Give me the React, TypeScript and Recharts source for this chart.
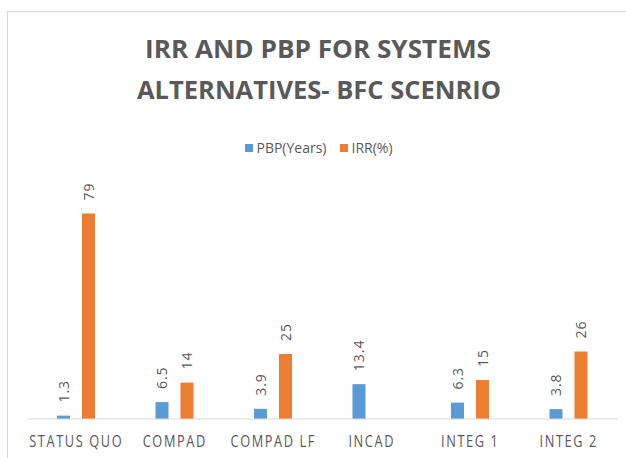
import React from "react";
import { BarChart, Bar, XAxis, YAxis, Legend, LabelList } from "recharts";

const categories = ["STATUS QUO", "COMPAD", "COMPAD LF", "INCAD", "INTEG 1", "INTEG 2"];
const pbpYears = [1.3, 6.5, 3.9, 13.4, 6.3, 3.8];
const irrPercent = [79, 14, 25, null, 15, 26];
const seriesNames = ["PBP(Years)", "IRR(%)"];

const titleLines = ["IRR AND PBP FOR SYSTEMS", "ALTERNATIVES- BFC SCENRIO"];

const data = categories.map((name, i) => ({
  name,
  pbp: pbpYears[i],
  irr: irrPercent[i],
}));

const GRAY = "#595959";
const FONT = "'Open Sans', sans-serif";

// rotated value label sitting a little above the bar
const RotatedLabel = (props: any) => {
  const { x, y, width, value } = props;
  if (value == null) return null;
  const cx = x + width / 2;
  const cy = y - 13;
  return (
    <text
      x={cx}
      y={cy}
      transform={`rotate(-90 ${cx} ${cy})`}
      textAnchor="start"
      dominantBaseline="central"
      fontSize={14}
      fontFamily={FONT}
      fill={GRAY}
      letterSpacing={1}
    >
      {value}
    </text>
  );
};

// narrow, letter-spaced category labels
const SpacedTick = (props: any) => {
  const { x, y, payload } = props;
  return (
    <g transform={`translate(${x} ${y + 28}) scale(0.8 1)`}>
      <text
        x={0}
        y={0}
        textAnchor="middle"
        fontSize={16}
        fontFamily={FONT}
        fill={GRAY}
        letterSpacing={2}
      >
        {payload.value}
      </text>
    </g>
  );
};

const LegendContent = (props: any) => {
  const items = [...(props.payload || [])].sort(
    (a: any, b: any) => seriesNames.indexOf(a.value) - seriesNames.indexOf(b.value)
  );
  return (
    <div style={{ display: "flex", justifyContent: "center", gap: 14, fontFamily: FONT, fontSize: 14, color: GRAY }}>
      {items.map((p: any) => (
        <span key={p.value} style={{ display: "flex", alignItems: "center" }}>
          <span style={{ width: 8, height: 8, background: p.color, marginRight: 3, display: "inline-block" }} />
          {p.value}
        </span>
      ))}
    </div>
  );
};

export default function App() {
  return (
    <div style={{ position: "relative", width: 626, height: 458, overflow: "hidden", background: "#fff" }}>
      <style>{"body{margin:0}"}</style>
      <div
        style={{
          position: "absolute",
          left: 7,
          top: 11,
          width: 660,
          height: 480,
          border: "1px solid #d9d9d9",
        }}
      />
      <BarChart
        width={626}
        height={458}
        data={data}
        margin={{ top: 166, right: 8, left: 27, bottom: 9 }}
        barSize={13}
        barGap={12}
      >
        <XAxis
          dataKey="name"
          height={30}
          tickSize={0}
          tickMargin={0}
          axisLine={{ stroke: "#d9d9d9" }}
          tick={<SpacedTick />}
          interval={0}
        />
        <YAxis hide domain={[0, 90]} />
        <Legend
          verticalAlign="top"
          content={<LegendContent />}
          wrapperStyle={{ top: 138, left: 6, width: 626 }}
        />
        <Bar dataKey="pbp" name={seriesNames[0]} fill="#5B9BD5" isAnimationActive={false}>
          <LabelList dataKey="pbp" content={<RotatedLabel />} />
        </Bar>
        <Bar dataKey="irr" name={seriesNames[1]} fill="#ED7D31" isAnimationActive={false}>
          <LabelList dataKey="irr" content={<RotatedLabel />} />
        </Bar>
      </BarChart>
      <svg
        width={626}
        height={120}
        style={{ position: "absolute", left: 0, top: 0, pointerEvents: "none" }}
      >
        <text
          x={145}
          y={58}
          textLength={346}
          lengthAdjust="spacingAndGlyphs"
          fontFamily={FONT}
          fontWeight={700}
          fontSize={25}
          fill={GRAY}
        >
          {titleLines[0]}
        </text>
        <text
          x={137}
          y={99}
          textLength={364}
          lengthAdjust="spacingAndGlyphs"
          fontFamily={FONT}
          fontWeight={700}
          fontSize={25}
          fill={GRAY}
        >
          {titleLines[1]}
        </text>
      </svg>
    </div>
  );
}
